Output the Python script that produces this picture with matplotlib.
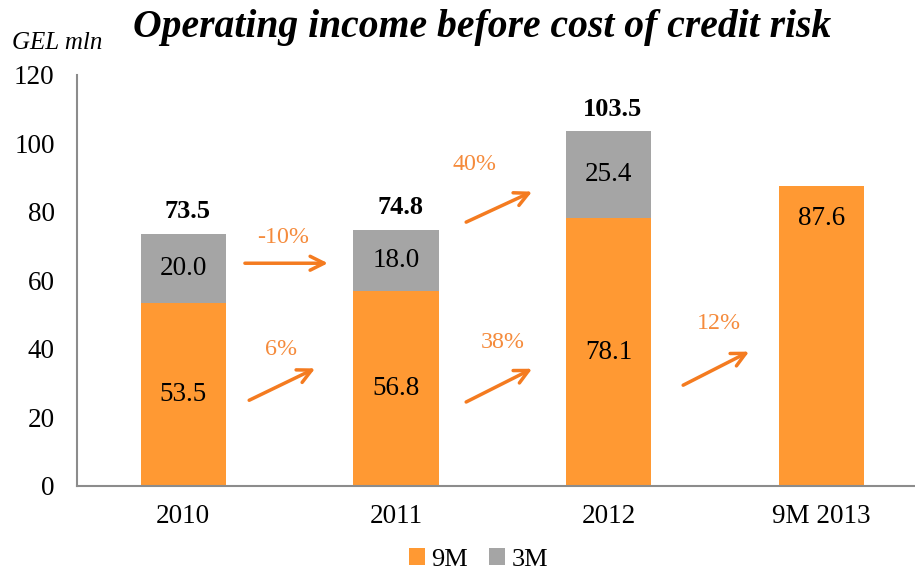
import numpy as np
from matplotlib import pyplot as plt

plt.rcParams['font.family'] = ['Liberation Serif', 'DejaVu Serif']

categories = ["2010", "2011", "2012", "9M 2013"]
nine_m = [53.5, 56.8, 78.1, 87.6]
three_m = [20.0, 18.0, 25.4, 0.0]
totals = [73.5, 74.8, 103.5, None]
growth_labels = ["-10%", "6%", "40%", "38%", "12%"]

orange = "#FF9933"
grey = "#A5A5A5"
arrow_col = "#F47B20"
pct_col = "#F58B3C"

# arrow start, end, text position (x in category index, y in data units)
arrows = [
    ((0.29, 65.0), (0.68, 65.0), (0.47, 72.5)),
    ((0.31, 25.0), (0.62, 34.3), (0.46, 39.8)),
    ((1.33, 77.0), (1.64, 85.9), (1.37, 93.8)),
    ((1.33, 24.5), (1.64, 34.2), (1.50, 42.0)),
    ((2.35, 29.4), (2.66, 39.2), (2.52, 47.5)),
]

fig = plt.figure(figsize=(9.15, 5.71), dpi=100)
ax = fig.add_axes([0.084, 0.149, 0.93, 0.72])

x = np.arange(len(categories))
w = 0.40
ax.bar(x, nine_m, w, color=orange, label="9M")
ax.bar(x, three_m, w, bottom=nine_m, color=grey, label="3M")

for i in range(len(categories)):
    if three_m[i] > 0:
        ax.text(x[i], nine_m[i] / 2, "%.1f" % nine_m[i], ha="center", va="center", fontsize=19.5)
        ax.text(x[i], nine_m[i] + three_m[i] / 2, "%.1f" % three_m[i], ha="center", va="center", fontsize=19.5)
    else:
        ax.text(x[i], nine_m[i] - 9.5, "%.1f" % nine_m[i], ha="center", va="center", fontsize=19.5)
    if totals[i] is not None:
        ax.text(x[i] + 0.02, totals[i] + 6.5, "%.1f" % totals[i], ha="center", va="center",
                fontsize=19, fontweight="bold")

for (start, end, tpos), lab in zip(arrows, growth_labels):
    ax.annotate("", xy=end, xytext=start,
                arrowprops=dict(arrowstyle="->,head_length=1.0,head_width=0.5",
                                color=arrow_col, lw=2.5, shrinkA=0, shrinkB=0))
    ax.text(tpos[0], tpos[1], lab, ha="center", va="center", fontsize=17.3, color=pct_col)

ax.set_xlim(-0.5, 3.5)
ax.set_ylim(0, 120)
ax.set_yticks(np.arange(0, 121, 20))
ax.set_xticks(x)
ax.set_xticklabels(categories)
ax.tick_params(axis="both", length=0, labelsize=19.5)
ax.tick_params(axis="x", pad=13)
ax.tick_params(axis="y", pad=16)
for s in ["top", "right"]:
    ax.spines[s].set_visible(False)
for s in ["left", "bottom"]:
    ax.spines[s].set_color("#8C8C8C")
    ax.spines[s].set_linewidth(1.5)

fig.text(0.527, 0.952, "Operating income before cost of credit risk", ha="center", va="center",
         fontsize=28.5, fontweight="bold", fontstyle="italic")
fig.text(0.013, 0.925, "GEL mln", ha="left", va="center", fontsize=18, fontstyle="italic")

fig.legend(loc="center", bbox_to_anchor=(0.523, 0.02), ncol=2, frameon=False, fontsize=19,
           handlelength=0.6, handleheight=0.6, handletextpad=0.25, columnspacing=0.8)

fig.savefig("out.png", dpi=100)
